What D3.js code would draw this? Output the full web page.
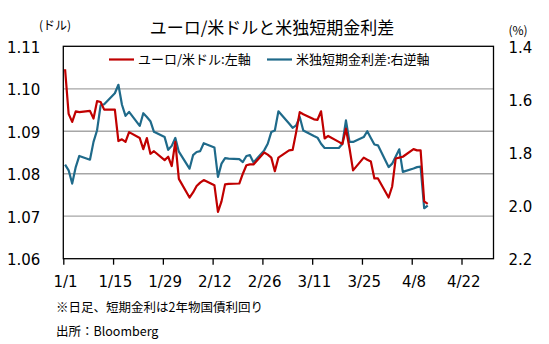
<!DOCTYPE html>
<html>
<head>
<meta charset="utf-8">
<script src="https://cdn.jsdelivr.net/npm/d3@7"></script>
<style>
  html, body { margin: 0; padding: 0; background: #fff; }
  svg { display: block; }
</style>
</head>
<body>
<svg id="chart" width="549" height="344"></svg>
<script>
// Trading days, 2024 (month/day)
const dates = [
  "1/1","1/2","1/3","1/4","1/5","1/8","1/9","1/10","1/11","1/12","1/15","1/16","1/17","1/18","1/19","1/22","1/23","1/24","1/25","1/26","1/29","1/30","1/31",
  "2/1","2/2","2/5","2/6","2/7","2/8","2/9","2/12","2/13","2/14","2/15","2/16","2/19","2/20","2/21","2/22","2/23","2/26","2/27","2/28","2/29",
  "3/1","3/4","3/5","3/6","3/7","3/8","3/11","3/12","3/13","3/14","3/15","3/18","3/19","3/20","3/21","3/22","3/25","3/26","3/27","3/28","3/29",
  "4/1","4/2","4/3","4/4","4/5","4/8","4/9","4/10","4/11","4/12"
];

// EUR/USD (left axis, USD)
const eurusd = [
  1.1046, 1.0941, 1.0922, 1.0947, 1.0945, 1.0948, 1.0930, 1.0971, 1.0969, 1.0951, 1.0951, 1.0877, 1.0881, 1.0875, 1.0898, 1.0884, 1.0858, 1.0884, 1.0847, 1.0853, 1.0832, 1.0840, 1.0818,
  1.0875, 1.0788, 1.0744, 1.0756, 1.0771, 1.0779, 1.0785, 1.0773, 1.0710, 1.0735, 1.0775, 1.0776, 1.0777, 1.0800, 1.0820, 1.0822, 1.0822, 1.0850, 1.0845, 1.0838, 1.0806,
  1.0838, 1.0855, 1.0856, 1.0898, 1.0945, 1.0940, 1.0928, 1.0927, 1.0947, 1.0883, 1.0889, 1.0875, 1.0870, 1.0906, 1.0860, 1.0808, 1.0838, 1.0833, 1.0829, 1.0789, 1.0789,
  1.0744, 1.0770, 1.0836, 1.0838, 1.0840, 1.0858, 1.0855, 1.0855, 1.0735, 1.0729
];

// US-German 2y yield spread (right axis, inverted, %)
const spread = [
  1.846, 1.867, 1.917, 1.855, 1.813, 1.827, 1.760, 1.716, 1.622, 1.618, 1.577, 1.545, 1.620, 1.662, 1.647, 1.700, 1.652, 1.666, 1.682, 1.722, 1.742, 1.790, 1.775,
  1.745, 1.797, 1.861, 1.810, 1.798, 1.795, 1.765, 1.781, 1.892, 1.842, 1.821, 1.823, 1.825, 1.836, 1.813, 1.810, 1.838, 1.792, 1.767, 1.723, 1.717,
  1.645, 1.691, 1.707, 1.698, 1.666, 1.717, 1.738, 1.744, 1.767, 1.783, 1.783, 1.783, 1.767, 1.679, 1.760, 1.760, 1.742, 1.720, 1.745, 1.770, 1.773,
  1.855, 1.842, 1.815, 1.788, 1.873, 1.860, 1.855, 1.853, 2.010, 2.000
];

const xTickLabels = ["1/1","1/15","1/29","2/12","2/26","3/11","3/25","4/8","4/22"];
const leftTicks = [1.06, 1.07, 1.08, 1.09, 1.10, 1.11];
const rightTicks = [1.4, 1.6, 1.8, 2.0, 2.2];

const YEAR = 2024;
const DAY = 864e5;
const parseMD = s => { const [m, d] = s.split("/").map(Number); return new Date(Date.UTC(YEAR, m - 1, d)); };
const mid = s => new Date(parseMD(s).getTime() + DAY / 2);   // centre of each day slot

const plot = { left: 63.3, right: 493.5, top: 46.3, bottom: 258.7 };
const svg = d3.select("#chart");
const jp = "'Noto Sans CJK JP', 'Noto Sans', sans-serif";
const num = "'DejaVu Sans', Verdana, sans-serif";

const x = d3.scaleUtc()
  .domain([new Date(Date.UTC(YEAR, 0, 1)), new Date(Date.UTC(YEAR, 4, 1))])
  .range([plot.left, plot.right]);
const yL = d3.scaleLinear().domain([1.06, 1.11]).range([plot.bottom, plot.top]);
const yR = d3.scaleLinear().domain([1.4, 2.2]).range([plot.top, plot.bottom]);

// gridlines
svg.append("g").selectAll("line")
  .data(leftTicks.slice(1, -1))
  .join("line")
  .attr("x1", plot.left).attr("x2", plot.right)
  .attr("y1", d => yL(d)).attr("y2", d => yL(d))
  .attr("stroke", "#a6a6a6").attr("stroke-width", 1.3);

// plot frame
svg.append("rect")
  .attr("x", plot.left).attr("y", plot.top)
  .attr("width", plot.right - plot.left).attr("height", plot.bottom - plot.top)
  .attr("fill", "none").attr("stroke", "#000").attr("stroke-width", 1.3);

// left axis labels
const gL = svg.append("g")
  .attr("transform", `translate(${plot.left - 20},0)`)
  .call(d3.axisLeft(yL).tickValues(leftTicks).tickSize(0).tickFormat(d3.format(".2f")));
gL.select(".domain").remove();
gL.selectAll("text").attr("font-family", num).attr("font-size", 15).attr("fill", "#000").attr("dy", "0.4em");

// right axis labels
const gR = svg.append("g")
  .attr("transform", `translate(${plot.right + 12},0)`)
  .call(d3.axisRight(yR).tickValues(rightTicks).tickSize(0).tickFormat(d3.format(".1f")));
gR.select(".domain").remove();
gR.selectAll("text").attr("font-family", num).attr("font-size", 15).attr("fill", "#000").attr("dy", "0.4em");

// bottom axis: tick marks at day boundaries, labels centred on the day
const xTicks = xTickLabels.map(parseMD);
const gX = svg.append("g")
  .attr("transform", `translate(0,${plot.bottom})`)
  .call(d3.axisBottom(x).tickValues(xTicks).tickSize(6).tickPadding(12)
    .tickFormat((d, i) => xTickLabels[i]));
gX.select(".domain").remove();
gX.selectAll("line").attr("stroke", "#000").attr("stroke-width", 1.3);
const halfDay = x(new Date(Date.UTC(YEAR, 0, 1, 12))) - x(new Date(Date.UTC(YEAR, 0, 1)));
gX.selectAll("text").attr("x", halfDay).attr("font-family", num).attr("font-size", 15).attr("fill", "#000");

// series
const rows = dates.map((d, i) => ({ t: mid(d), fx: eurusd[i], sp: spread[i] }));
svg.append("path")
  .datum(rows)
  .attr("fill", "none").attr("stroke", "#1f6a8a").attr("stroke-width", 2.2)
  .attr("stroke-linejoin", "round")
  .attr("d", d3.line().x(d => x(d.t)).y(d => yR(d.sp)));
svg.append("path")
  .datum(rows)
  .attr("fill", "none").attr("stroke", "#c00000").attr("stroke-width", 2.2)
  .attr("stroke-linejoin", "round")
  .attr("d", d3.line().x(d => x(d.t)).y(d => yL(d.fx)));

// legend
const legend = [
  { label: "ユーロ/米ドル:左軸", color: "#c00000", x0: 109 },
  { label: "米独短期金利差:右逆軸", color: "#1f6a8a", x0: 267 }
];
const lg = svg.append("g").selectAll("g").data(legend).join("g")
  .attr("transform", d => `translate(${d.x0},59.5)`);
lg.append("line").attr("x1", 0).attr("x2", 25).attr("stroke", d => d.color).attr("stroke-width", 2.2);
lg.append("text").attr("x", 29).attr("dy", "0.36em")
  .attr("font-family", jp).attr("font-size", 13).attr("fill", "#000")
  .text(d => d.label);

// titles and notes
svg.append("text").attr("x", 272).attr("y", 34).attr("text-anchor", "middle")
  .attr("font-family", jp).attr("font-size", 17).attr("fill", "#000")
  .text("ユーロ/米ドルと米独短期金利差");
svg.append("text").attr("x", 55).attr("y", 30).attr("text-anchor", "middle")
  .attr("font-family", jp).attr("font-size", 12).attr("fill", "#000")
  .text("(ドル)");
svg.append("text").attr("x", 518).attr("y", 35).attr("text-anchor", "middle")
  .attr("font-family", jp).attr("font-size", 12).attr("fill", "#000")
  .text("(%)");
svg.append("text").attr("x", 56).attr("y", 312)
  .attr("font-family", jp).attr("font-size", 12.5).attr("fill", "#000")
  .text("※日足、短期金利は2年物国債利回り");
svg.append("text").attr("x", 56).attr("y", 336)
  .attr("font-family", jp).attr("font-size", 12.5).attr("fill", "#000")
  .text("出所：Bloomberg");
</script>
</body>
</html>
